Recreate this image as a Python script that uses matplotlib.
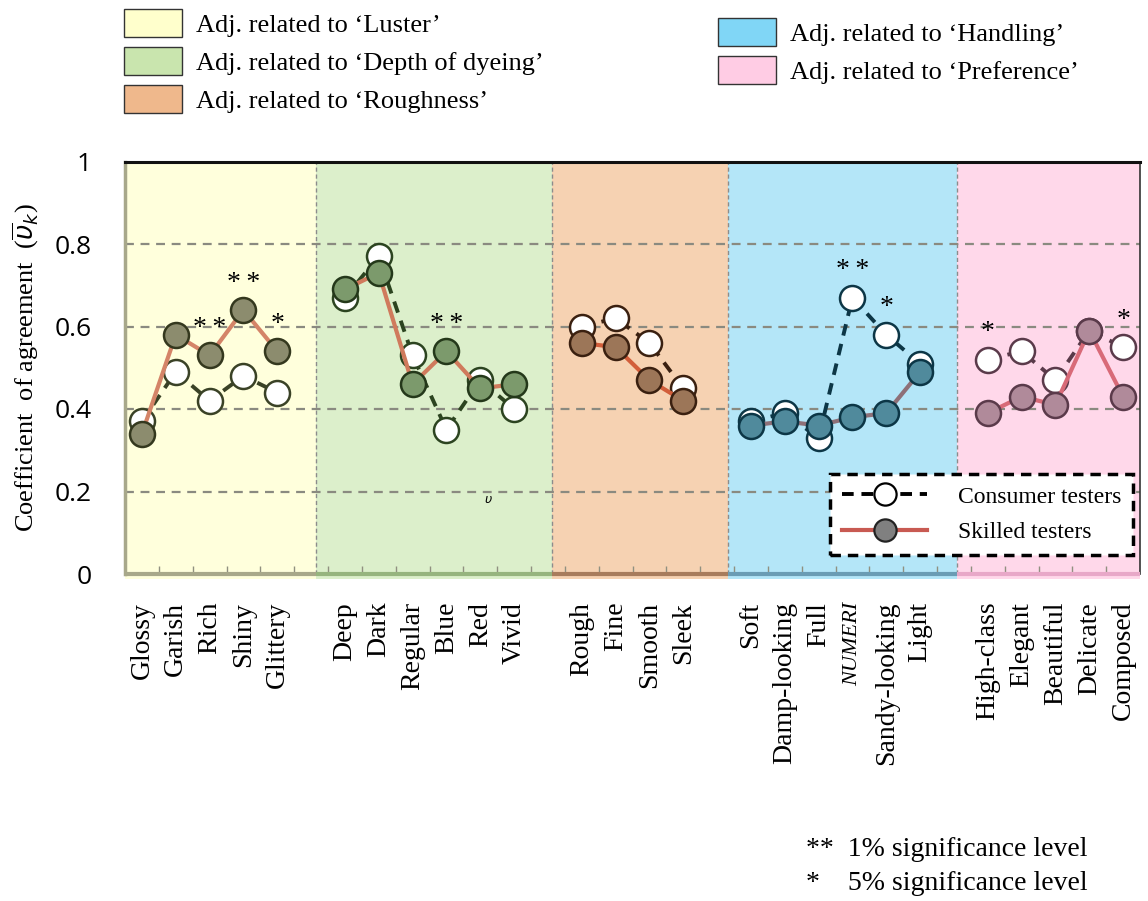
import matplotlib
matplotlib.use("Agg")
import matplotlib.pyplot as plt
from matplotlib.patches import Patch
from matplotlib.lines import Line2D

# ---------------- data ----------------
group_names = ["Luster", "Depth of dyeing", "Roughness", "Handling", "Preference"]

luster_adj = ["Glossy", "Garish", "Rich", "Shiny", "Glittery"]
luster_consumer = [0.37, 0.49, 0.42, 0.48, 0.44]
luster_skilled = [0.34, 0.58, 0.53, 0.64, 0.54]
luster_sig = ["", "", "**", "**", "*"]

depth_adj = ["Deep", "Dark", "Regular", "Blue", "Red", "Vivid"]
depth_consumer = [0.67, 0.77, 0.53, 0.35, 0.47, 0.40]
depth_skilled = [0.69, 0.73, 0.46, 0.54, 0.45, 0.46]
depth_sig = ["", "", "", "**", "", ""]

rough_adj = ["Rough", "Fine", "Smooth", "Sleek"]
rough_consumer = [0.60, 0.62, 0.56, 0.45]
rough_skilled = [0.56, 0.55, 0.47, 0.42]
rough_sig = ["", "", "", ""]

handling_adj = ["Soft", "Damp-looking", "Full", "NUMERI", "Sandy-looking", "Light"]
handling_consumer = [0.37, 0.39, 0.33, 0.67, 0.58, 0.51]
handling_skilled = [0.36, 0.37, 0.36, 0.38, 0.39, 0.49]
handling_sig = ["", "", "", "**", "*", ""]

pref_adj = ["High-class", "Elegant", "Beautiful", "Delicate", "Composed"]
pref_consumer = [0.52, 0.54, 0.47, 0.59, 0.55]
pref_skilled = [0.39, 0.43, 0.41, 0.59, 0.43]
pref_sig = ["*", "", "", "", "*"]

y_ticks = [0, 0.2, 0.4, 0.6, 0.8, 1]
y_ticklabels = ["0", "0.2", "0.4", "0.6", "0.8", "1"]

# ---------------- styles ----------------
groups = [
    dict(adj=luster_adj, con=luster_consumer, sk=luster_skilled, sig=luster_sig,
         bg="#FFFFDC", fill="#8C8C6E", edge="#34381E", skline="#D48468", conline="#3A4226",
         axis="#A8A88A", patch="#FFFFCC"),
    dict(adj=depth_adj, con=depth_consumer, sk=depth_skilled, sig=depth_sig,
         bg="#DCEFCB", fill="#7C9A6C", edge="#24381A", skline="#D07A5C", conline="#2C4420",
         axis="#96B47E", patch="#C9E5AE"),
    dict(adj=rough_adj, con=rough_consumer, sk=rough_skilled, sig=rough_sig,
         bg="#F6D2B2", fill="#9C7658", edge="#3A2010", skline="#D25E3A", conline="#3A2010",
         axis="#A87C5C", patch="#EFB88C"),
    dict(adj=handling_adj, con=handling_consumer, sk=handling_skilled, sig=handling_sig,
         bg="#B4E6F8", fill="#508A9C", edge="#0C3646", skline="#8E7078", conline="#0C3646",
         axis="#6A9CB4", patch="#80D6F6"),
    dict(adj=pref_adj, con=pref_consumer, sk=pref_skilled, sig=pref_sig,
         bg="#FFD8EA", fill="#B08A9A", edge="#5A3A4A", skline="#D86A78", conline="#5A3A4A",
         axis="#E8A8C8", patch="#FFCCE4"),
]
span_edges = [-0.5, 5.15, 12.12, 17.32, 24.09, 29.5]

serif = "Liberation Serif"

fig = plt.figure(figsize=(11.48, 9.01), dpi=100)
ax = fig.add_axes([125 / 1148, 1 - 574 / 901, 1015 / 1148, 412.5 / 901])
ax.set_xlim(-0.5, 29.5)
ax.set_ylim(0, 1)

# backgrounds
for i, g in enumerate(groups):
    ax.axvspan(span_edges[i], span_edges[i + 1], ymin=-0.012, ymax=1, color=g["bg"],
               zorder=0, lw=0, clip_on=False)
    ax.plot([span_edges[i], span_edges[i + 1]], [0, 0], color=g["axis"], lw=3,
            zorder=3, clip_on=False, solid_capstyle="butt")
for e in span_edges[1:-1]:
    ax.axvline(e, color="#8C8C8C", lw=1, ls=(0, (3, 2)), zorder=1)
for yv in y_ticks[1:-1]:
    ax.axhline(yv, color="#8A8A80", lw=1.6, ls=(0, (4, 3)), zorder=1)

positions = []
labels = []
start = 0
for i, g in enumerate(groups):
    xs = list(range(start, start + len(g["adj"])))
    positions += xs
    labels += g["adj"]
    ax.plot(xs, g["con"], ls=(0, (3, 2.2)), lw=2.8, color=g["conline"], marker="o",
            ms=18, mfc="white", mec=g["conline"], mew=1.8, zorder=4)
    ax.plot(xs, g["sk"], ls="-", lw=3, color=g["skline"], marker="o",
            ms=18, mfc=g["fill"], mec=g["edge"], mew=1.8, zorder=5)
    for x, c, s, sig in zip(xs, g["con"], g["sk"], g["sig"]):
        if sig:
            ax.text(x, max(c, s) + 0.065, "\u2009".join(sig), ha="center", va="center",
                    fontsize=20, family=serif, zorder=6)
    start += len(g["adj"]) + 1

ax.text(10.23, 0.18, r"$\upsilon$", fontsize=9, ha="center", va="center", zorder=6)

# axes styling
ax.set_xticks(positions)
ax.set_xticklabels(labels, rotation=90, family=serif, fontsize=20, va="top")
for t in ax.get_xticklabels():
    if t.get_text() == "NUMERI":
        t.set_style("italic")
        t.set_fontsize(16)
ax.tick_params(axis="x", length=0, pad=20)
ax.set_xticks([i + 0.5 for i in range(29)], minor=True)
ax.tick_params(axis="x", which="minor", direction="in", length=6, color="#909080", width=1)
ax.set_yticks(y_ticks)
ax.set_yticklabels(y_ticklabels, family="Open Sans", fontsize=19)
ax.tick_params(axis="y", length=0, pad=24)
ax.set_ylabel(r"Coefficient  of agreement  ($\overline{\upsilon}_k$)", family=serif,
              fontsize=19)
ax.yaxis.set_label_coords(-0.083, 0.5)

ax.spines["bottom"].set_visible(False)
ax.spines["left"].set_color("#A8A88A")
ax.spines["left"].set_linewidth(2.5)
ax.spines["top"].set_color("#111111")
ax.spines["top"].set_linewidth(2.2)
ax.spines["right"].set_color("#333333")
ax.spines["right"].set_linewidth(1.2)

# inner legend
h_con = Line2D([], [], ls=(0, (3, 2)), lw=2.8, color="black", marker="o", ms=16,
               mfc="white", mec="black", mew=1.6)
h_sk = Line2D([], [], ls="-", lw=3, color="#C85A52", marker="o", ms=16,
              mfc="#808080", mec="#222222", mew=1.6)
leg = ax.legend([h_con, h_sk], ["Consumer testers", "Skilled testers"],
                loc="lower right", bbox_to_anchor=(0.993, 0.046), borderaxespad=0,
                prop={"family": serif, "size": 17}, fancybox=False, framealpha=1,
                handlelength=3.6, borderpad=0.5, labelspacing=0.6, handletextpad=1.3)
leg.get_frame().set_edgecolor("black")
leg.get_frame().set_linewidth(2.5)
leg.get_frame().set_linestyle((0, (3, 2)))

# top group legends
def patch(c):
    return Patch(facecolor=c, edgecolor="#333333", lw=1)

lab = [f"Adj. related to \u2018{n}\u2019" for n in group_names]
l1 = fig.legend([patch(g["patch"]) for g in groups[:3]], lab[:3], loc="upper left",
                bbox_to_anchor=(100 / 1148, 1.016), frameon=False,
                prop={"family": serif, "size": 19}, handlelength=2.2, handleheight=1.25,
                labelspacing=0.38, handletextpad=0.55)
l2 = fig.legend([patch(g["patch"]) for g in groups[3:]], lab[3:], loc="upper left",
                bbox_to_anchor=(694 / 1148, 1.006), frameon=False,
                prop={"family": serif, "size": 19}, handlelength=2.2, handleheight=1.25,
                labelspacing=0.38, handletextpad=0.55)

fig.text(806 / 1148, 1 - 850 / 901, "**  1% significance level", family=serif,
         fontsize=20, va="center")
fig.text(806 / 1148, 1 - 884 / 901, "*    5% significance level", family=serif,
         fontsize=20, va="center")

fig.savefig("out.png", dpi=100)
